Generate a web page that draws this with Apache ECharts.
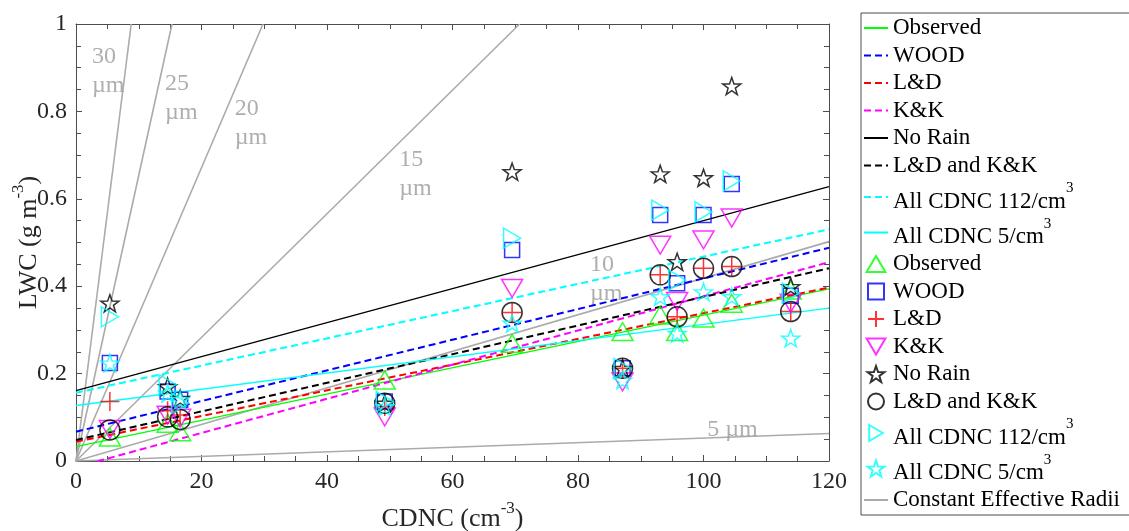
<!DOCTYPE html>
<html>
<head>
<meta charset="utf-8">
<title>LWC vs CDNC</title>
<script src="https://cdn.jsdelivr.net/npm/echarts@6/dist/echarts.min.js"></script>
<style>html,body{margin:0;padding:0;background:#fff;}</style>
</head>
<body>
<div id="main" style="width:1129px;height:531px;"></div>
<script>
// CDNC of each case (cm-3)
var cdnc = [5.4, 14.6, 16.6, 49.2, 69.5, 87.1, 93.1, 95.8, 100.0, 104.5, 113.9];
// LWC (g m-3) per case
var lwcObserved = [0.055, 0.086, 0.067, 0.185, 0.269, 0.296, 0.334, 0.296, 0.327, 0.361, 0.391];
var lwcWood     = [0.224, 0.159, 0.140, 0.136, 0.483, 0.212, 0.563, 0.407, 0.563, 0.634, 0.378];
var lwcLD       = [0.136, 0.115, 0.105, 0.125, 0.340, 0.212, 0.426, 0.330, 0.441, 0.445, 0.342];
var lwcKK       = [0.072, 0.105, 0.098, 0.101, 0.395, 0.181, 0.494, 0.365, 0.506, 0.556, 0.361];
var lwcNoRain   = [0.361, 0.170, 0.143, 0.132, 0.662, 0.212, 0.657, 0.456, 0.648, 0.858, 0.399];
var lwcLDKK     = [0.071, 0.101, 0.095, 0.132, 0.340, 0.212, 0.426, 0.330, 0.441, 0.445, 0.342];
var lwcAll112   = [0.330, 0.175, 0.132, 0.136, 0.510, 0.212, 0.574, 0.414, 0.570, 0.641, 0.384];
var lwcAll5     = [0.224, 0.155, 0.140, 0.124, 0.315, 0.185, 0.376, 0.292, 0.387, 0.376, 0.281];

// linear fits, end points [cdnc, lwc]
var fitObserved = [[0, 0.033], [120, 0.394]];
var fitWood     = [[0, 0.067], [120, 0.488]];
var fitLD       = [[0, 0.044], [120, 0.397]];
var fitKK       = [[0, -0.014], [120, 0.455]];
var fitNoRain   = [[0, 0.161], [120, 0.628]];
var fitLDKK     = [[0, 0.048], [120, 0.441]];
var fitAll112   = [[0, 0.156], [120, 0.530]];
var fitAll5     = [[0, 0.127], [120, 0.350]];

// constant effective radius lines from the origin
var radiiText = ['5 µm', '10\nµm', '15\nµm', '20\nµm', '25\nµm', '30\nµm'];
var radiiEnd  = [[120, 0.063], [120, 0.502], [70.7, 1], [29.8, 1], [15.3, 1], [8.8, 1]];
var radiiTextAt = [[100.6, 0.105], [81.9, 0.483], [51.5, 0.723], [25.3, 0.840], [14.2, 0.897], [2.55, 0.959]];

var serif = "'Liberation Serif', 'Times New Roman', serif";
var STAR = 'path://M10,0L12.35,6.76L19.51,6.91L13.8,11.24L15.88,18.09L10,14L4.12,18.09L6.2,11.24L0.49,6.91L7.65,6.76Z';
var PLUS = 'path://M0,10L20,10M10,0L10,20';
var TRI_UP = 'path://M10,0L20,17L0,17Z';
var TRI_DOWN = 'path://M0,0L20,0L10,17Z';
var TRI_RIGHT = 'path://M0,0L17,10L0,20Z';
var SQUARE = 'path://M0,0L10,0L10,10L0,10Z';

function pts(arr) {
    return cdnc.map(function (x, i) { return [x, arr[i]]; });
}
function fitLine(name, data, color, dashed) {
    return {
        name: name, type: 'line', data: data, symbol: 'none', silent: true, z: 3,
        itemStyle: { color: 'rgba(0,0,0,0)', borderWidth: 0 },
        lineStyle: { color: color, width: dashed ? 2 : 1.3, type: dashed ? [7, 4] : 'solid' }
    };
}
function marks(name, arr, symbol, size, color) {
    return {
        name: name + ' ', type: 'scatter', data: pts(arr), z: 5,
        symbol: symbol, symbolSize: size, symbolKeepAspect: true,
        itemStyle: { color: 'rgba(0,0,0,0)', borderColor: color, borderWidth: 1.5 }
    };
}

var series = [];
radiiEnd.forEach(function (e) {
    series.push({
        name: 'Constant Effective Radii', type: 'line', data: [[0, 0], e], symbol: 'none', silent: true, z: 2,
        itemStyle: { color: 'rgba(0,0,0,0)', borderWidth: 0 }, lineStyle: { color: '#ababab', width: 1.6 }
    });
});
series.push({
    type: 'scatter', silent: true, symbolSize: 0, z: 2,
    data: radiiTextAt.map(function (p, i) { return { value: p, name: radiiText[i] }; }),
    label: {
        show: true, formatter: '{b}', position: [0, 0], align: 'left', verticalAlign: 'top',
        color: '#9a9a9a', fontFamily: serif, fontSize: 24, lineHeight: 29
    }
});
series.push(
    fitLine('Observed', fitObserved, '#00ff00', false),
    fitLine('WOOD', fitWood, '#0000ff', true),
    fitLine('L&D', fitLD, '#ff0000', true),
    fitLine('K&K', fitKK, '#ff00ff', true),
    fitLine('No Rain', fitNoRain, '#000000', false),
    fitLine('L&D and K&K', fitLDKK, '#000000', true),
    fitLine('All CDNC 112/cm3', fitAll112, '#00ffff', true),
    fitLine('All CDNC 5/cm3', fitAll5, '#00ffff', false),
    marks('Observed', lwcObserved, TRI_UP, 21, '#00ff00'),
    marks('WOOD', lwcWood, SQUARE, 15, '#0000ff'),
    marks('L&D', lwcLD, PLUS, 19, '#ff0000'),
    marks('K&K', lwcKK, TRI_DOWN, 21, '#ff00ff'),
    marks('No Rain', lwcNoRain, STAR, 18, '#000000'),
    marks('L&D and K&K', lwcLDKK, 'circle', 20, '#000000'),
    marks('All CDNC 112/cm3', lwcAll112, TRI_RIGHT, 20, '#00ffff'),
    marks('All CDNC 5/cm3', lwcAll5, STAR, 18, '#00ffff')
);

var legendNames = ['Observed', 'WOOD', 'L&D', 'K&K', 'No Rain', 'L&D and K&K', 'All CDNC 112/cm3', 'All CDNC 5/cm3'];
var legendData = legendNames.concat(legendNames.map(function (n) { return n + ' '; }));
legendData.push('Constant Effective Radii');

function axisBase(pos, isX) {
    return {
        type: 'value', position: pos, min: 0, max: isX ? 120 : 1, interval: isX ? 20 : 0.2,
        axisLine: { show: true, onZero: false, lineStyle: { color: '#4d4d4d', width: 1 } },
        axisTick: { show: true, inside: true, length: 6, lineStyle: { color: '#4d4d4d' } },
        minorTick: { show: true, splitNumber: 4, length: 5, lineStyle: { color: '#4d4d4d' } },
        splitLine: { show: false },
        axisLabel: { show: false }
    };
}
var nameStyle = {
    rich: {
        a: { fontFamily: serif, fontSize: 26, color: '#262626', lineHeight: 32, verticalAlign: 'bottom' },
        s: { fontFamily: serif, fontSize: 17, color: '#262626', lineHeight: 17, verticalAlign: 'top' }
    }
};
var xBottom = axisBase('bottom', true);
xBottom.axisLabel = { show: true, color: '#262626', fontFamily: serif, fontSize: 24, margin: 9 };
xBottom.name = '{a|CDNC (cm}{s|-3}{a|)}';
xBottom.nameLocation = 'middle';
xBottom.nameGap = 39;
xBottom.nameMoveOverlap = false;
xBottom.nameTextStyle = nameStyle;
var yLeft = axisBase('left', false);
yLeft.axisLabel = { show: true, color: '#262626', fontFamily: serif, fontSize: 24, margin: 9 };
yLeft.name = '{a|LWC (g m}{s|-3}{a|)}';
yLeft.nameLocation = 'middle';
yLeft.nameGap = 34;
yLeft.nameMoveOverlap = false;
yLeft.nameTextStyle = nameStyle;

var myChart = echarts.init(document.getElementById('main'));
var option = {
    animation: false,
    grid: { left: 76, right: 300, top: 24, bottom: 70, outerBoundsMode: 'none' },
    xAxis: [xBottom, axisBase('top', true)],
    yAxis: [yLeft, axisBase('right', false)],
    legend: {
        orient: 'vertical', left: 861, top: 13,
        data: legendData,
        itemWidth: 24, itemHeight: 16, itemGap: 3.5,
        padding: [3, 10, 3, 2],
        borderColor: '#4d4d4d', borderWidth: 1,
        selectedMode: false,
        formatter: function (name) {
            var t = name.trim();
            var m = t.match(/^(.*)cm3$/);
            if (m) return '{a|' + m[1] + 'cm}{s|3}';
            return t;
        },
        textStyle: {
            fontFamily: serif, fontSize: 23, color: '#000', lineHeight: 24,
            rich: {
                a: { fontFamily: serif, fontSize: 23, color: '#000', lineHeight: 32, verticalAlign: 'bottom' },
                s: { fontFamily: serif, fontSize: 15, color: '#000', lineHeight: 15, verticalAlign: 'top' }
            }
        }
    },
    series: series
};
myChart.setOption(option);
</script>
</body>
</html>
